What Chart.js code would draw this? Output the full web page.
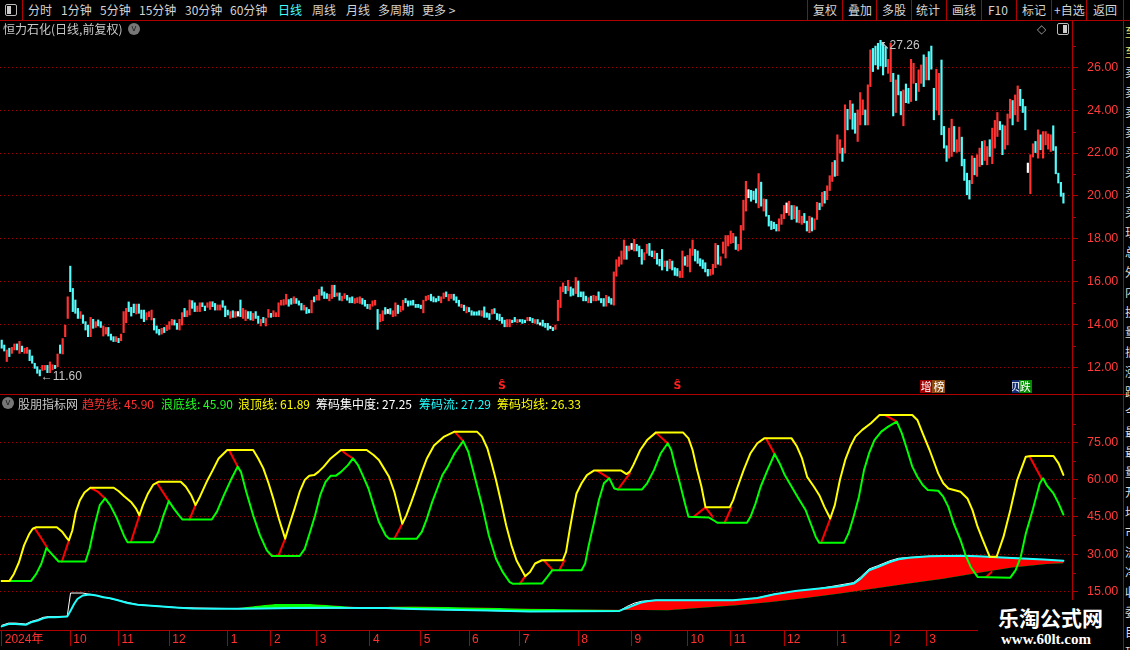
<!DOCTYPE html>
<html><head><meta charset="utf-8">
<script src="https://cdn.jsdelivr.net/npm/chart.js@4.4.1/dist/chart.umd.min.js"></script>
<style>
html,body{margin:0;padding:0;background:#000;}
body{width:1130px;height:650px;position:relative;overflow:hidden;font-family:"Noto Sans CJK SC","Noto Sans",sans-serif;}
.a{position:absolute;white-space:nowrap;}
.tb{top:2px;font-size:12px;line-height:16px;color:#d4d4d4;}
.vl{position:absolute;width:1px;background:#b00000;}
.hl{position:absolute;height:1px;background:#b00000;}
.lg{top:396px;font-size:12px;line-height:16px;}
.ico{position:absolute;width:10px;height:10px;border:1px solid #bbb;border-radius:2px;}
.ico i{position:absolute;left:1px;top:1px;width:4px;height:8px;background:#ccc;}
.circ{position:absolute;width:12px;height:12px;border-radius:50%;background:#777;color:#222;font-size:9px;line-height:11px;text-align:center;font-family:"DejaVu Sans";}
</style></head><body>

<canvas id="cMain" class="a" style="left:0;top:21px;" width="1123" height="373"></canvas>
<canvas id="cInd" class="a" style="left:0;top:395px;" width="1123" height="251"></canvas>

<!-- toolbar -->
<div class="hl" style="left:0;top:20px;width:1130px;"></div>
<div class="vl" style="left:22px;top:0;height:20px;"></div>
<div class="ico" style="left:5px;top:4px;"><i></i></div>
<span class="a tb" style="left:28px;">分时</span>
<span class="a tb" style="left:61px;">1分钟</span>
<span class="a tb" style="left:100px;">5分钟</span>
<span class="a tb" style="left:139px;">15分钟</span>
<span class="a tb" style="left:185px;">30分钟</span>
<span class="a tb" style="left:230px;">60分钟</span>
<span class="a tb" style="left:278px;color:#40ffff;">日线</span>
<span class="a tb" style="left:312px;">周线</span>
<span class="a tb" style="left:346px;">月线</span>
<span class="a tb" style="left:378px;">多周期</span>
<span class="a tb" style="left:422px;">更多 &gt;</span>
<div class="vl" style="left:807px;top:0;height:20px;"></div>
<div class="vl" style="left:842px;top:0;height:20px;"></div>
<div class="vl" style="left:876px;top:0;height:20px;"></div>
<div class="vl" style="left:911px;top:0;height:20px;"></div>
<div class="vl" style="left:946px;top:0;height:20px;"></div>
<div class="vl" style="left:981px;top:0;height:20px;"></div>
<div class="vl" style="left:1016px;top:0;height:20px;"></div>
<div class="vl" style="left:1051px;top:0;height:20px;"></div>
<div class="vl" style="left:1086px;top:0;height:20px;"></div>
<span class="a tb" style="left:813px;">复权</span>
<span class="a tb" style="left:848px;">叠加</span>
<span class="a tb" style="left:882px;">多股</span>
<span class="a tb" style="left:916px;">统计</span>
<span class="a tb" style="left:952px;">画线</span>
<span class="a tb" style="left:988px;">F10</span>
<span class="a tb" style="left:1022px;">标记</span>
<span class="a tb" style="left:1054px;">+自选</span>
<span class="a tb" style="left:1093px;">返回</span>
<div class="vl" style="left:1123px;top:0;height:650px;"></div>
<div class="hl" style="left:0;top:394px;width:1130px;"></div>

<!-- main title -->
<span class="a" style="left:3px;top:21px;font-size:12px;line-height:16px;color:#c8c8c8;">恒力石化(日线,前复权)</span>
<div class="circ" style="left:128px;top:23px;">v</div>
<span class="a" style="left:1037px;top:21px;font-size:12px;line-height:16px;color:#9a9a9a;font-family:'DejaVu Sans';">◇</span>
<div class="ico" style="left:1057px;top:23px;"><i style="left:auto;right:1px;"></i></div>

<!-- indicator legend -->
<div class="circ" style="left:2px;top:397px;">v</div>
<span class="a lg" style="left:18px;color:#c8c8c8;">股朋指标网</span>
<span class="a lg" style="left:82px;color:#ff3030;">趋势线: 45.90</span>
<span class="a lg" style="left:161px;color:#20ff20;">浪底线: 45.90</span>
<span class="a lg" style="left:238px;color:#ffff00;">浪顶线: 61.89</span>
<span class="a lg" style="left:316px;color:#ffffff;">筹码集中度: 27.25</span>
<span class="a lg" style="left:419px;color:#20ffff;">筹码流: 27.29</span>
<span class="a lg" style="left:497px;color:#ffff00;">筹码均线: 26.33</span>

<!-- right side strip -->
<div class="a" style="left:1125px;top:22px;width:5px;height:628px;overflow:hidden;font-size:12px;line-height:20px;color:#ddd;white-space:normal;">
<div style="color:#e8e070;">至<br>至</div>卖<br>卖<br>卖<br>卖<br>买<br>买<br>买<br>买<br>现<br>总<br>外<br>内<br>换<br>量<br>振<br>涨<br>跌<br>今<br>最<br>最<br>量<br>开<br>均<br>市<br>流<br>净<br>收<br>委<br>目<br>现<br>金
</div>

<!-- watermark -->
<div class="a" style="left:978px;top:600px;width:145px;height:50px;background:#000;"></div>
<span class="a" style="left:998px;top:604px;font-size:21px;line-height:26px;font-weight:bold;color:#fff;font-family:'Noto Sans CJK SC';">乐淘公式网</span>
<span class="a" style="left:1001px;top:631px;font-size:15px;line-height:17px;font-weight:bold;color:#fff;font-family:'Liberation Serif';">www.60lt.com</span>

<script>
// ---------- candlestick data (daily, 419 bars) ----------
const highs = [
13.27,13.04,12.81,12.89,12.93,13.09,13.09,13.21,12.99,12.89,
12.93,12.81,12.53,12.19,12.03,11.88,12.09,12.09,12.09,12.25,
12.12,12.09,12.62,13.04,13.34,13.97,15.29,16.72,15.68,15.14,
14.75,14.60,14.44,14.13,13.97,14.33,14.24,14.13,14.21,14.13,
13.93,13.86,13.86,13.55,13.43,13.43,13.35,13.55,14.60,14.75,
15.05,14.80,14.95,14.95,14.95,14.67,14.67,14.55,14.60,14.67,
14.28,13.93,13.77,13.82,13.86,13.97,14.13,14.24,14.21,14.05,
14.24,14.55,14.75,14.64,15.14,15.11,15.01,14.86,15.01,15.01,
14.86,15.01,15.06,15.06,14.98,14.91,14.91,15.11,14.86,14.67,
14.60,14.64,14.60,14.60,15.14,14.75,14.67,14.60,14.60,14.52,
14.60,14.39,14.24,14.33,14.28,14.70,14.52,14.64,14.55,
15.01,15.13,15.16,15.41,15.16,15.21,15.29,15.21,15.10,14.98,
14.90,14.79,14.70,15.13,15.29,15.36,15.63,15.75,15.52,15.44,
15.41,15.83,15.83,15.47,15.47,15.32,15.44,15.36,15.25,15.29,
15.21,15.25,15.29,15.21,15.13,14.94,14.94,15.10,15.13,14.70,
14.48,14.64,14.79,14.70,14.74,14.64,15.01,14.90,14.85,15.13,
15.21,15.10,15.10,15.13,14.94,14.94,14.90,15.13,15.32,15.36,
15.41,15.29,15.21,15.32,15.29,15.47,15.52,15.41,15.41,15.41,
15.29,15.13,14.94,14.90,14.82,14.79,14.64,14.59,14.59,14.64,
14.64,14.82,14.54,14.51,14.70,14.74,14.51,14.48,14.33,14.20,
14.23,14.23,14.20,14.33,14.23,14.23,14.23,14.20,14.33,14.33,
14.28,14.23,14.23,14.08,14.20,14.05,14.05,13.92,13.86,13.97,
15.13,15.75,15.94,15.78,16.06,15.75,15.67,16.19,16.03,15.52,
15.52,15.32,15.25,15.32,15.36,15.32,15.52,15.21,15.21,15.36,
15.29,15.21,16.45,17.02,17.15,
17.43,17.94,17.66,17.66,17.78,17.97,17.74,17.66,17.50,17.35,
17.74,17.78,17.43,17.43,17.32,17.04,17.50,16.96,16.96,17.04,
16.96,16.65,16.61,16.49,17.43,17.16,17.22,17.53,17.94,17.50,
17.43,17.07,17.01,16.88,16.57,16.57,16.81,17.78,17.69,17.16,
17.85,18.15,18.15,18.36,18.25,18.09,17.74,18.62,19.80,20.68,
20.29,20.26,20.22,20.33,21.04,20.64,19.86,19.83,19.09,18.82,
18.77,18.67,18.93,19.13,19.55,19.67,19.75,19.55,19.55,19.49,
19.33,19.05,19.18,18.82,19.05,18.98,18.93,19.70,
19.66,20.16,20.21,20.47,20.94,21.56,21.65,22.85,22.62,22.23,
24.25,24.04,24.45,24.29,23.86,24.01,24.82,24.48,24.01,25.18,
26.81,26.88,26.99,27.12,27.26,27.15,26.96,26.37,27.12,25.72,
25.41,25.64,24.87,24.94,25.22,25.02,26.37,26.19,25.25,25.88,
26.11,26.58,26.47,26.73,26.99,25.02,25.91,25.72,26.34,23.24,
22.34,23.16,23.58,23.24,22.62,23.21,22.74,21.71,21.06,20.72,
21.87,21.76,21.92,22.23,22.54,22.58,22.30,22.62,23.16,23.52,
23.89,23.47,23.31,23.27,23.82,24.51,24.45,24.71,25.13,24.97,
24.51,24.17,21.53,21.92,22.43,22.54,23.08,22.85,23.00,23.00,
22.89,22.85,23.27,22.30,21.06,20.63,20.13
];
const lows = [
12.89,12.76,12.27,12.50,12.65,12.81,12.81,12.65,12.73,12.65,
12.65,12.31,12.19,11.95,11.72,11.60,11.85,11.88,11.75,11.75,
11.88,11.94,12.03,12.65,12.62,13.43,14.28,15.53,14.60,14.52,
14.28,14.28,14.05,13.74,13.43,13.43,13.82,13.86,13.93,13.86,
13.46,13.55,13.46,13.27,13.20,13.20,13.15,13.24,13.62,14.08,
14.60,14.39,14.55,14.49,14.52,14.28,14.13,14.21,14.36,14.21,
13.74,13.59,13.51,13.55,13.62,13.71,13.77,13.97,13.97,13.77,
13.74,13.97,14.36,14.36,14.44,14.75,14.60,14.60,14.60,14.83,
14.64,14.80,14.70,14.83,14.67,14.67,14.67,14.80,14.36,14.44,
14.28,14.33,14.33,14.39,14.36,14.28,14.18,14.28,14.21,14.18,
14.28,14.05,13.93,14.08,13.93,14.33,14.33,14.36,14.36,
14.36,14.90,14.90,14.94,14.85,14.94,14.98,14.98,14.90,14.67,
14.67,14.51,14.54,14.54,15.05,15.13,15.13,15.36,15.21,15.21,
15.10,15.21,15.29,15.32,15.13,15.10,15.21,15.13,15.01,15.01,
14.98,15.01,14.98,14.94,14.85,14.74,14.70,14.85,14.90,13.77,
14.12,14.17,14.48,14.51,14.48,14.36,14.39,14.51,14.59,14.67,
15.01,14.85,14.90,14.90,14.79,14.79,14.74,14.54,15.10,15.16,
15.10,15.05,15.05,15.10,15.01,15.21,15.29,15.10,15.21,15.13,
15.01,14.85,14.79,14.64,14.54,14.59,14.43,14.43,14.43,14.43,
14.39,14.33,14.33,14.23,14.48,14.51,14.23,14.17,14.05,13.89,
13.89,13.89,14.08,14.12,14.08,14.12,14.05,14.08,14.17,14.17,
14.08,14.05,14.02,13.97,13.92,13.86,13.74,13.81,13.71,13.77,
14.17,14.79,15.52,15.44,15.57,15.32,15.36,15.44,15.29,15.29,
15.10,15.10,15.01,15.01,15.10,15.10,15.13,15.01,14.85,14.85,
15.01,14.94,14.90,16.25,16.71,
16.81,17.04,17.04,17.43,17.50,17.43,17.43,17.16,16.81,17.01,
17.32,17.22,17.16,17.07,16.81,16.73,16.54,16.70,16.50,16.61,
16.54,16.29,16.26,16.19,16.19,16.76,16.70,16.45,17.22,16.96,
16.85,16.73,16.61,16.45,16.26,16.29,16.34,16.65,16.81,16.76,
17.32,17.10,17.66,17.78,17.81,17.50,17.43,17.50,18.40,19.29,
19.91,19.75,19.83,19.67,19.44,19.52,19.29,19.05,18.59,18.43,
18.47,18.36,18.36,18.67,18.93,19.21,19.09,18.90,18.93,18.77,
18.74,18.67,18.74,18.36,18.28,18.36,18.43,18.90,
19.35,19.51,19.66,19.82,20.25,20.67,20.91,20.94,21.99,21.61,
21.99,23.08,23.58,23.11,22.92,22.54,23.31,23.78,23.31,23.31,
25.10,25.80,26.11,25.91,26.06,25.64,26.03,25.72,25.33,23.73,
23.89,24.71,23.78,23.27,24.35,24.32,24.40,25.25,24.45,24.87,
25.25,25.10,25.41,25.41,25.91,23.55,24.01,23.78,22.85,22.23,
21.61,21.76,21.84,22.07,22.03,22.07,21.40,20.72,20.05,19.85,
20.57,20.98,20.91,21.37,21.45,21.65,21.45,21.84,21.50,22.23,
22.77,23.08,21.92,22.18,22.38,23.62,23.31,23.78,23.47,24.20,
23.89,23.08,21.09,20.10,21.81,22.02,21.76,22.15,21.76,22.38,
22.18,22.07,22.12,21.03,20.60,19.98,19.66
];
// u = up (red), d = down (cyan), w = flat (white)
const dirs = ("dduduududu"+"uddddduudu"+"ududuuuddd"+"dudddududd"+"uuddduduuu"+"ddduddduuu"+"ddduduuudd"+"uuduudduud"+"duudduuddd"+"uduwduuddu"+"dduduuduu"
 +"uuuudduddd"+"udduduuddd"+"uududuuddd"+"uuuddduuud"+"uudwduuduu"+"ddddddduuu"+"dddduuduud"+"ddududdddd"+"uddduddddd"+"uuddudddud"+"dudwdddwdu"+"uuududdudd"+"dduduudddu"+"dduuu"
 +"uuduwudddu"+"uddudddudu"+"ddduuduuud"+"ddddduuudu"+"uuuuuduuuu"+"wdddududdd"+"dduuuwudud"+"uudduduu"
 +"duduuuduud"+"ududduuudu"+"udddddduud"+"uddudduudu"+"ududdduudd"+"duuduudddd"+"uduuduuduu"+"udduuuduud"+"ddwuududuu"+"uuddddd").split('');

// signal marks under the price panel (bar index, text)
const sigIdx = [197, 266, 364, 369, 399, 403];
const sigText = ['Ŝ','Ŝ','增','榜','贝','跌'];

// axis ticks
const priceTicks = [12,14,16,18,20,22,24,26];
const priceMinor = [13,15,17,19,21,23,25,27];
const indTicks = [15,30,45,60,75];
const indMinor = [7.5,22.5,37.5,52.5,67.5,82.5];
const monthIdx = [0,27,46,66,89,106,124,145,165,184,204,227,248,270,287,308,329,350,364];
const monthLabels = ['2024年','10','11','12','1','2','3','4','5','6','7','8','9','10','11','12','1','2','3'];

// ---------- indicator data (x = bar index) ----------
const topX = [0,3,4.8,6.8,8.8,10.9,12.2,13.6,21.7,23.7,25.8,26.45,27.8,29.2,30.8,32.6,34.9,44.1,46.1,48.1,50.9,52.9,54.2,55.6,57.6,59.7,61.7,70.5,72.5,74.6,76.3,78,80.7,83.1,85.4,88.8,99,101,103,105.1,107.1,109.1,111.6,113.2,115.3,117.3,119.3,121.1,123,124.7,126.8,129.5,133.6,143.7,146.4,148.5,150.5,152.5,154.6,155.9,157.7,159.3,161.3,163.4,165.4,167.4,170.2,174.2,178.3,187.1,189.1,191.2,192.9,194.6,196.6,198.6,200.7,202.7,206.1,
208,210,212.7,220.9,222.2,223.6,225,226.3,228.3,230.4,233.1,243.9,246,247.3,248.7,251.4,254.1,257.5,268.3,270.4,272,273.8,275.5,277.1,286.6,288,289.3,292.1,294.8,297.5,300.2,311,313.1,315.1,317.1,319.8,321.9,323.9,326.2,328,330,332.1,334.1,336.1,338.8,342.2,345.6,358.5,360.5,362.6,365.3,368.7,370.7,372.7,377.5,380.2,382.2,384.2,386.3,389,391.7,394.4,397.1,399.8,403.2,405.3,414.1,416.1,418];
const topY = [19.1,19.1,22.0,26.7,33.5,38.2,40.2,40.8,40.8,39.1,36.2,35.5,39.5,47.0,51.7,54.8,56.7,56.7,55.3,53.4,51.0,48.3,45.6,49.7,54.4,58.0,59.1,59.1,57.1,53.7,49.7,53.0,59.1,63.8,68.5,71.9,71.9,68.5,64.5,58.4,51.7,44.3,36.2,41.6,48.3,55.0,59.8,61.5,61.8,63.1,65.2,68.5,71.9,71.9,69.9,67.9,64.5,61.1,55.0,49.7,42.2,45.6,51.0,57.1,63.1,68.5,73.7,77.3,79.3,79.3,77.3,72.6,66.5,59.8,51.0,41.6,33.5,27.4,21.1,
22.8,26.2,27.5,27.5,30.9,39.6,47.7,54.4,58.5,61.8,63.6,63.6,62.2,63.2,65.9,71.9,75.9,78.9,78.9,76.6,71.9,63.8,57.1,48.8,48.8,51.7,55.8,63.8,70.6,74.6,76.6,76.6,73.3,68.5,61.1,57.1,53.7,49.0,44.3,49.7,59.8,67.9,73.3,77.3,80.0,82.7,86.0,86.0,84.0,78.6,71.9,62.5,58.5,56.4,55.1,52.4,47.7,41.0,35.6,28.9,28.9,36.9,47.7,59.8,69.2,69.5,69.5,66.5,61.89];

const botX = [0,11.5,13.6,15.6,17.6,22.4,33,34.6,36.6,38.6,40.7,42.7,45.4,48.1,49.5,59.7,61.7,63.7,65.8,67.8,69.8,71.2,82.7,84.7,87.5,90.2,92.9,94.2,96.3,99,101.7,104.4,106.4,117.3,119.3,121.4,123.4,125.4,127.5,129.5,131.5,133.6,136.3,138.3,140.3,142.4,144.4,146.4,148.5,151.2,152.5,163.4,165.4,167.4,169.5,171.5,173.5,175.6,178.3,181.7,183.7,186.4,189.1,191.8,194.6,197.3,200,201.3,
208,212.7,214.8,216.8,228.3,229.7,231,233.1,235.1,237.1,239.2,241.2,242.6,252.1,254.1,256.8,259.5,262.2,263.6,264.9,267,269,270.4,278.5,281.2,281.9,293.4,294.8,296.8,298.8,301.5,304.3,306.3,308.3,311,313.7,316.5,318.5,320.5,321.9,331.6,333.4,335.4,337.5,339.5,341.5,343.6,346.3,349,352.4,354.4,356.5,358.5,360.5,362.6,364.6,368.7,370.7,372.7,374.8,377.5,379.5,381.5,384.2,397.1,399.2,401.2,403.2,405.9,408.7,410,411.4,414.1,416.1,418];
const botY = [19.1,19.1,22.0,26.1,32.4,27.0,27.0,32.1,41.6,49.7,52.4,49.7,44.3,37.5,34.8,34.8,38.9,45.6,51.3,48.3,45.6,43.9,43.9,47.0,53.7,59.8,65.2,63.1,55.0,45.6,37.5,31.5,29.2,29.2,32.1,38.9,45.6,53.7,59.1,61.5,61.5,63.1,65.8,68.5,65.8,61.1,56.4,49.7,42.9,37.5,36.2,36.2,38.9,44.3,51.0,56.4,61.8,65.2,70.6,75.5,71.2,60.4,49.7,37.5,28.1,22.7,18.7,18.0,
18.1,18.1,20.8,23.5,23.5,26.2,32.9,42.3,51.7,58.5,60.5,56.4,56.0,56.0,58.5,63.8,70.6,74.6,71.9,66.5,58.5,50.4,45.0,44.7,43.0,42.6,42.6,45.0,50.4,57.1,63.8,70.3,66.5,61.8,57.1,52.4,47.7,42.3,36.9,34.5,34.5,38.3,45.0,53.1,63.8,70.6,75.9,79.3,81.3,83.3,78.6,71.9,65.2,61.1,57.8,55.8,55.5,53.1,49.0,42.3,35.6,29.5,24.8,20.8,20.5,23.5,28.9,38.3,47.7,58.5,60.5,57.8,54.4,50.4,45.90];

// trend line: visible transition segments (null = break)
const trendX = [12.9,15.5,18.0,21,23.7,26.45,30,34.85,38,40.7,45,50.85,54.24,58,61,65.8,70,73.9,76.3,83,89.5,92.9,100,108.9,111.6,120,133.6,136,138.3,146,154.6,157.7,168,178.3,181.7,193,204,206.1,210,213.4,216.8,218,219.5,221.6,228,234.4,239.2,241,242.6,247.3,252,257.5,262.2,268,272.4,277.1,279.9,282,284.6,287.3,295,300.9,304.3,315,322.6,326.2,340,347.6,352.4,370,387.6,389.7,398,404.6,409.3];
const trendY = [40.5,36.5,32.4,null,27.0,35.5,null,56.7,55.0,52.4,null,34.8,45.6,null,58.8,51.3,null,43.9,49.7,null,71.9,65.2,null,29.2,36.2,null,71.9,70.0,68.5,null,36.2,42.2,null,79.3,75.5,null,18.0,21.1,null,27.5,23.7,null,23.5,27.5,null,63.6,60.5,null,56.0,62.5,null,78.9,74.6,null,45.0,48.8,45.0,null,42.6,48.8,null,76.6,70.3,null,34.5,44.3,null,86.0,83.3,null,20.8,22.8,null,69.5,60.5];

// chip flow (cyan)
const flowX = [0,2.7,5.4,9.5,11.5,14.2,16.3,18.3,21,25.8,27.1,28.5,29.8,31.9,34.6,37.3,40,42.7,45.4,49.5,53.6,59,64.4,69.8,75.3,83.4,92.9,102.4,114.6,128.1,141.7,151.2,162,175.6,191.8,208,243.2,245.3,247.3,249.4,251.4,254.1,257.5,288,293.4,297.5,304.3,312.4,321.9,330,335.4,338.2,341.5,344.9,349.7,353.1,357.1,365.3,377.5,384.2,397.8,410,418];
const flowY = [0.86,1.8,1.8,1.5,2.5,3.2,4.1,4.5,4.5,4.8,7.2,9.9,11.9,13.3,13.7,13.3,12.6,12.2,11.5,10.3,9.6,9.2,8.8,8.4,8.1,8.0,8.0,8.1,8.3,8.4,8.3,8.3,7.9,7.6,7.3,6.9,7.1,8.0,8.7,9.6,10.4,11.0,11.4,11.4,11.9,12.3,13.8,15.1,16.1,17.0,18.1,20.1,23.5,24.8,26.8,27.9,28.5,29.1,29.3,29.1,28.4,27.8,27.29];
// chip concentration (white)
const concX = [0,2.7,5.4,9.5,11.5,14.2,16.3,18.3,21,25.8,27.1,31.9,34.6,37.3,45.4,53.6,69.8,92.9,141.7,208,243.2,246,249,252,257.5,288,297.5,304.3,321.9,335.4,338.2,341.5,344.9,349.7,353.1,357.1,365.3,377.5,397.8,418];
const concY = [1.3,2.2,2.2,1.8,2.8,3.6,4.5,4.8,4.8,5.0,14.3,14.3,13.8,13.3,11.5,9.6,8.4,8.0,8.3,6.9,7.1,8.8,10.2,11.0,11.4,11.4,12.3,13.9,16.1,18.5,20.8,24.0,25.3,27.3,28.3,28.6,29.1,29.3,28.4,27.25];
// chip average (fill boundary)
const avgX = [83.4,92.9,102.4,107.6,121.4,129.5,134.9,140.3,145.8,151.2,152.5,162,175.6,191.8,208,241.9,262.2,275.8,289.3,302.9,316.5,330,343.6,357.1,370.7,384.2,397.8,411.4,418];
const avgY = [8.0,8.3,9.4,9.9,9.9,9.4,9.0,8.6,8.2,8.2,8.8,8.9,8.7,8.4,8.0,7.6,7.35,8.4,9.4,10.7,12.3,14.1,16.1,18.1,20.1,22.4,24.6,26.0,26.33];

// ---------- rendering ----------
const XMIN = -0.67, XMAX = 421.38;
const RED_AX = '#b00000';
const candleColor = {u:'#ff3232', d:'#54fcfc', w:'#ffffff'};
const sigStyle = {'Ŝ':null,'增':{bg:'#a00000',w:12},'榜':{bg:'#8a4a10',w:13},'贝':{bg:'#102a70',w:7},'跌':{bg:'#008a00',w:13}};
const pts = (xs, ys) => xs.map((x, i) => ({x, y: ys[i]}));

const minorTicks = {
  id: 'minorTicks',
  afterDraw(chart, args, opts) {
    const s = chart.scales.y, ctx = chart.ctx;
    ctx.save(); ctx.fillStyle = RED_AX;
    (opts.values || []).forEach(v => { ctx.fillRect(s.left, Math.round(s.getPixelForValue(v)), 4, 1); });
    ctx.restore();
  }
};
const extremes = {
  id: 'extremes',
  afterDatasetsDraw(chart) {
    const {ctx, scales: {x, y}} = chart;
    let iMin = 0, iMax = 0;
    for (let i = 0; i < lows.length; i++) { if (lows[i] < lows[iMin]) iMin = i; if (highs[i] > highs[iMax]) iMax = i; }
    ctx.save();
    ctx.fillStyle = '#c8c8c8'; ctx.font = '12px "Liberation Sans","DejaVu Sans"';
    ctx.textBaseline = 'middle'; ctx.textAlign = 'left';
    ctx.fillText('←' + lows[iMin].toFixed(2), x.getPixelForValue(iMin) + 1, y.getPixelForValue(lows[iMin]) + 1);
    ctx.fillText('↖' + highs[iMax].toFixed(2), x.getPixelForValue(iMax) - 1, y.getPixelForValue(highs[iMax]) + 5);
    ctx.restore();
  }
};
const signals = {
  id: 'signals',
  afterDatasetsDraw(chart) {
    const {ctx, scales: {x}, chartArea} = chart;
    const py = chartArea.bottom - 8;
    ctx.save(); ctx.textAlign = 'center'; ctx.textBaseline = 'middle';
    sigIdx.forEach((v, i) => {
      const px = x.getPixelForValue(v), st = sigStyle[sigText[i]];
      if (st) {
        const l = Math.round(px - st.w / 2), t = Math.round(py - 6);
        ctx.fillStyle = st.bg; ctx.fillRect(l, t, st.w, 13);
        ctx.save(); ctx.beginPath(); ctx.rect(l, t, st.w, 13); ctx.clip();
        ctx.fillStyle = '#ffffff'; ctx.font = '11px "Noto Sans CJK SC"';
        ctx.fillText(sigText[i], px, py + 0.5); ctx.restore();
      } else {
        ctx.fillStyle = '#ff2020'; ctx.font = 'bold 11px "DejaVu Sans"';
        ctx.fillText(sigText[i], px, py);
      }
    });
    ctx.restore();
  }
};

const yAxisBase = (min, max, ticks) => ({
  position: 'right', min, max,
  afterBuildTicks: s => { s.ticks = ticks.map(v => ({value: v})); },
  afterFit: s => { s.width = 51; s.paddingTop = 0; s.paddingBottom = 0; },
  ticks: {color: '#ff3b3b', padding: 9, font: {family: '"Liberation Sans"', size: 12.5}, callback: v => Number(v).toFixed(2)},
  grid: {color: '#a00000', tickColor: RED_AX, tickLength: 6, lineWidth: 1, borderDash: [1, 3], tickBorderDash: []},
  border: {display: true, color: RED_AX, width: 1, dash: [1, 3]}
});

new Chart(document.getElementById('cMain'), {
  type: 'bar',
  data: {datasets: [{
    data: highs.map((h, i) => ({x: i, y: [lows[i], h]})),
    backgroundColor: dirs.map(d => candleColor[d]),
    barThickness: 1.5, borderWidth: 0
  }]},
  options: {
    responsive: false, animation: false, events: [],
    layout: {padding: 0},
    plugins: {legend: {display: false}, tooltip: {enabled: false}, minorTicks: {values: priceMinor}},
    scales: {
      x: {type: 'linear', min: XMIN, max: XMAX, offset: false, display: false},
      y: yAxisBase(10.754, 28.16, priceTicks)
    }
  },
  plugins: [minorTicks, extremes, signals]
});

new Chart(document.getElementById('cInd'), {
  type: 'line',
  data: {datasets: [
    {data: pts(topX, topY), borderColor: '#ffff00', borderWidth: 2, order: 1},
    {data: pts(botX, botY), borderColor: '#00ff00', borderWidth: 2, order: 2},
    {data: pts(trendX, trendY), borderColor: '#ff0000', borderWidth: 2, order: 3, spanGaps: false},
    {data: pts(flowX, flowY), borderColor: '#20ffff', borderWidth: 2, order: 5,
      fill: {target: 5, above: '#ff0000', below: '#00ff00'}},
    {data: pts(concX, concY), borderColor: '#ffffff', borderWidth: 1, order: 6},
    {data: pts(avgX, avgY), borderColor: 'rgba(0,0,0,0)', borderWidth: 0, order: 7}
  ]},
  options: {
    responsive: false, animation: false, events: [],
    layout: {padding: 0},
    elements: {point: {radius: 0}, line: {tension: 0, borderJoinStyle: 'round', borderCapStyle: 'round'}},
    plugins: {legend: {display: false}, tooltip: {enabled: false}, minorTicks: {values: indMinor}},
    scales: {
      x: {
        type: 'linear', min: XMIN, max: XMAX, offset: false,
        afterBuildTicks: s => { s.ticks = monthIdx.map(v => ({value: v})); },
        afterFit: s => { s.height = 16; s.paddingLeft = 0; s.paddingRight = 0; },
        ticks: {autoSkip: false, maxRotation: 0, minRotation: 0, align: 'start', labelOffset: 3, padding: -14,
          color: '#ff3030', font: {family: '"Liberation Sans","Noto Sans CJK SC"', size: 12},
          callback: (v, i) => monthLabels[i]},
        grid: {drawOnChartArea: false, drawTicks: true, tickLength: 16, color: RED_AX, tickColor: RED_AX},
        border: {display: true, color: RED_AX}
      },
      y: yAxisBase(-0.586, 94.05, indTicks)
    }
  },
  plugins: [minorTicks]
});
</script>
</body></html>
